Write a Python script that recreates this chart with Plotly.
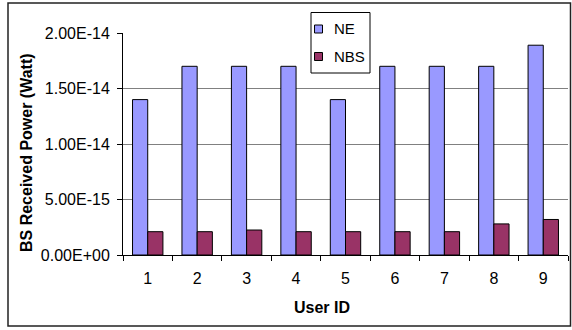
import plotly.graph_objects as go

# Received power at the base station per user
user_ids = ["1", "2", "3", "4", "5", "6", "7", "8", "9"]
ne_power = [1.40e-14, 1.70e-14, 1.70e-14, 1.70e-14, 1.40e-14, 1.70e-14, 1.70e-14, 1.70e-14, 1.89e-14]
nbs_power = [2.1e-15, 2.1e-15, 2.25e-15, 2.1e-15, 2.1e-15, 2.1e-15, 2.1e-15, 2.8e-15, 3.2e-15]

series_names = ["NE", "NBS"]
series_colors = ["#9999FF", "#993366"]

y_tick_vals = [0, 5e-15, 1e-14, 1.5e-14, 2e-14]
y_tick_text = ["0.00E+00", "5.00E-15", "1.00E-14", "1.50E-14", "2.00E-14"]

FONT = "Arial, Liberation Sans, sans-serif"

fig = go.Figure()
for name, vals, col in zip(series_names, [ne_power, nbs_power], series_colors):
    fig.add_trace(go.Bar(
        name=name, x=user_ids, y=vals, showlegend=False,
        marker=dict(color=col, line=dict(color="black", width=1)),
    ))

W, H = 572, 330
L, R, T, B = 123, 4, 33, 75
pw, ph = W - L - R, H - T - B

def px_x(p):
    return (p - L) / pw

def px_y(p):
    return (H - B - p) / ph

shapes = [
    # outer chart frame
    dict(type="rect", xref="paper", yref="paper",
         x0=px_x(8), x1=px_x(570.5), y0=px_y(326), y1=px_y(3),
         line=dict(color="#222222", width=1.5), fillcolor="rgba(0,0,0,0)", layer="below"),
    # legend box
    dict(type="rect", xref="paper", yref="paper",
         x0=px_x(311), x1=px_x(370), y0=px_y(73), y1=px_y(12.5),
         line=dict(color="black", width=1), fillcolor="white", layer="above"),
]
annotations = []
legend_rows = [29, 56.5]
for name, col, ry in zip(series_names, series_colors, legend_rows):
    shapes.append(dict(type="rect", xref="paper", yref="paper",
                       x0=px_x(314.5), x1=px_x(322.5), y0=px_y(ry + 4), y1=px_y(ry - 4),
                       line=dict(color="black", width=1), fillcolor=col, layer="above"))
    annotations.append(dict(text=name, xref="paper", yref="paper",
                            x=px_x(332), y=px_y(ry), xanchor="left", yanchor="middle",
                            showarrow=False, font=dict(family=FONT, size=15, color="black")))

annotations.append(dict(text="<b>User ID</b>", xref="paper", yref="paper",
                        x=px_x(322), y=px_y(307.5), xanchor="center", yanchor="middle",
                        showarrow=False, font=dict(family=FONT, size=16, color="black")))
annotations.append(dict(text="<b>BS Received Power (Watt)</b>", xref="paper", yref="paper",
                        x=px_x(26), y=px_y(153), xanchor="center", yanchor="middle",
                        textangle=-90, showarrow=False,
                        font=dict(family=FONT, size=16, color="black")))

fig.update_layout(
    width=W, height=H,
    margin=dict(l=L, r=R, t=T, b=B),
    paper_bgcolor="white", plot_bgcolor="white",
    barmode="group", bargap=0.385, bargroupgap=0,
    font=dict(family=FONT, size=16, color="black"),
    showlegend=False,
    xaxis=dict(
        type="category",
        showline=True, linecolor="black", linewidth=1,
        ticks="outside", ticklen=5, tickcolor="black", tickson="boundaries",
        showgrid=False,
        tickfont=dict(family=FONT, size=16),
        ticklabelstandoff=9,
    ),
    yaxis=dict(
        range=[0, 2e-14],
        tickvals=y_tick_vals, ticktext=y_tick_text,
        showline=True, linecolor="black", linewidth=1,
        ticks="outside", ticklen=5, tickcolor="black",
        showgrid=True, gridcolor="#808080", gridwidth=1,
        zeroline=False,
        tickfont=dict(family=FONT, size=16),
        ticklabelstandoff=4,
    ),
    shapes=shapes,
    annotations=annotations,
)

fig.write_html("out.html")
